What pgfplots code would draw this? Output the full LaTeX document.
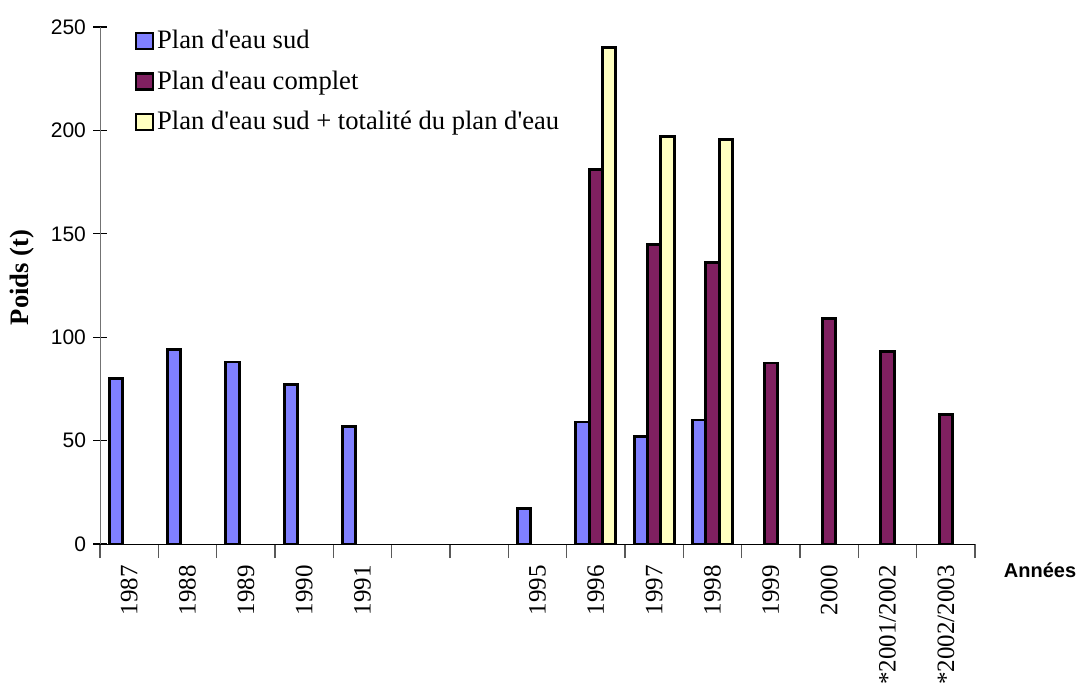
\documentclass[border=0pt]{standalone}
\usepackage{pgfplots}
\pgfplotsset{compat=1.18}
\usepackage{fontspec}
\setmainfont{Liberation Serif}
\newfontfamily\arial{Liberation Sans}

\definecolor{sud}{HTML}{8080FF}
\definecolor{complet}{HTML}{802060}
\definecolor{total}{HTML}{FFFFC0}

\newcommand{\ap}{\textquotesingle}

\begin{document}
\begin{tikzpicture}
\begin{axis}[
  at={(50pt,-272pt)}, anchor=south west,
  scale only axis,
  width=437.5pt, height=258.5pt,
  xmin=-0.5, xmax=14.5,
  ymin=0, ymax=250,
  ytick={0,50,...,250},
  xtick={-0.5,0.5,...,14.5},
  x tick label as interval,
  xticklabels={1987,1988,1989,1990,1991,{},{},1995,1996,1997,1998,1999,2000,*2001/2002,*2002/2003},
  xticklabel style={rotate=90, anchor=east, font=\fontsize{12.5}{14}\selectfont},
  yticklabel style={font=\arial\fontsize{10.5}{12}\selectfont},
  /pgf/number format/assume math mode=true,
  axis x line*=bottom,
  axis y line*=left,
  x axis line style={black,-},
  y axis line style={gray!90!black,-},
  tick align=center,
  major tick length=7pt,
  xtick style={gray!70!black, line width=0.6pt},
  ytick style={black, line width=0.6pt},
  ybar,
  bar width=0.228,
  every axis plot/.append style={draw=black, line width=1.4pt},
  legend style={draw=none, fill=none, at={(0.039,1.0)}, anchor=north west,
    font=\fontsize{13.3}{15}\selectfont, row sep=6.5pt, inner sep=0pt,
    nodes={inner sep=1.5pt}},
  legend cell align=left,
  legend image code/.code={\draw[#1, line width=1.3pt] (0pt,-4pt) rectangle (8.5pt,4pt);},
]
% Plan d'eau sud
\addplot[fill=sud, bar shift=-0.228] coordinates {
  (0,80) (1,94) (2,88) (3,77) (4,57) (7,17) (8,59) (9,52) (10,60)};
% Plan d'eau complet
\addplot[fill=complet, bar shift=0] coordinates {
  (8,181) (9,145) (10,136) (11,87.5) (12,109) (13,93) (14,62.5)};
% Plan d'eau sud + totalite
\addplot[fill=total, bar shift=0.228] coordinates {
  (8,240) (9,197) (10,195.5)};
\legend{Plan d\ap eau sud, Plan d\ap eau complet, Plan d\ap eau sud + totalité du plan d\ap eau}
\end{axis}
\node[rotate=90, font=\bfseries\fontsize{13.3}{15}\selectfont] at (11.25pt,-138.75pt) {Poids (t)};
\node[font=\arial\bfseries\fontsize{10}{12}\selectfont] at (520pt,-285pt) {Années};
\pgfresetboundingbox
\path[use as bounding box] (0,0) rectangle (538.5pt,-344pt);
\end{tikzpicture}
\end{document}
